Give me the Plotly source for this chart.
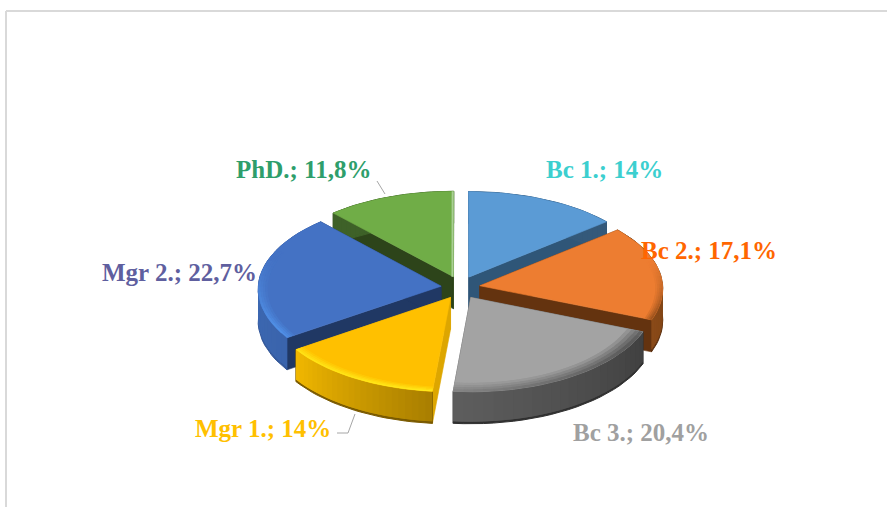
import math
import plotly.graph_objects as go

categories = ["Bc 1.", "Bc 2.", "Bc 3.", "Mgr 1.", "Mgr 2.", "PhD."]
shares = [14, 17.1, 20.4, 14, 22.7, 11.8]
value_labels = ["14%", "17,1%", "20,4%", "14%", "22,7%", "11,8%"]

top_colors = ["#5B9BD5", "#ED7D31", "#A3A3A3", "#FFC000", "#4472C4", "#70AD47"]
cut_colors = ["#2F5678", "#64330F", "#444444", "#DDA600", "#203864", "#2D441A"]
rim_colors = ["#5B9BD5", "#8A4A1A", "#555555", "#FFE81A", "#5090E6", "#70AD47"]
rim_width = [0, 0.04, 0.09, 0.05, 0.05, 0]
rim_fade = [0, 0, 0.6, 0.2, 0, 0]
wall_start = ["#34597A", "#6E3A12", "#404040", "#A87E00", "#3A64AC", "#3E6128"]
wall_end = ["#34597A", "#8A4A18", "#5E5E5E", "#F2B800", "#3F6CB8", "#3E6128"]
edge_colors = ["#34597A", "#5A2E0E", "#303030", "#7A5A00", "#34589A", "#3E6128"]
label_colors = ["#3CCFCF", "#FF6600", "#A0A0A0", "#FFC000", "#5F5F9F", "#2E9E6B"]
label_xy = [(604, 169), (709, 250), (641, 432), (263, 428), (179, 272), (303, 169)]
paint_order = [5, 0, 4, 1, 3, 2]

CX, CY, RX, RY, EX, EY, DEPTH = 460.5, 287.5, 183, 90, 19.5, 11.5, 32


def project(theta, r, mid):
    yf = -RY * r * math.cos(theta) - EY * math.cos(mid)
    xf = RX * r * math.sin(theta) + EX * math.sin(mid)
    return CX + xf * (1 + 0.03 * yf / RY), CY + yf * (1 + 0.04 * yf / RY)


def mix(a, b, t):
    pa = [int(a[i:i + 2], 16) for i in (1, 3, 5)]
    pb = [int(b[i:i + 2], 16) for i in (1, 3, 5)]
    return "#%02x%02x%02x" % tuple(round(p + (q - p) * t) for p, q in zip(pa, pb))


fig = go.Figure()


def poly(pts, color, width=0.6):
    xs = [p[0] for p in pts] + [pts[0][0]]
    ys = [p[1] for p in pts] + [pts[0][1]]
    fig.add_trace(go.Scatter(x=xs, y=ys, mode="lines", fill="toself", fillcolor=color,
                             line=dict(color=color, width=width), hoverinfo="skip", showlegend=False))


total = sum(shares)
starts = []
running = 0
for s in shares:
    starts.append(running)
    running += s

for i in paint_order:
    a0 = starts[i] / total * 2 * math.pi
    a1 = (starts[i] + shares[i]) / total * 2 * math.pi
    mid = (a0 + a1) / 2
    n = 24
    angles = [a0 + (a1 - a0) * k / n for k in range(n + 1)]
    apex = project(0, 0, mid)
    # radial cut faces
    for a in (a0, a1):
        e = project(a, 1, mid)
        poly([apex, e, (e[0], e[1] + DEPTH), (apex[0], apex[1] + DEPTH)], cut_colors[i])
    # thin dark foot of the wall, then the wall itself; each strip overlaps the next to hide seams
    poly([project(a, 1, mid) for a in angles] +
         [(p[0], p[1] + DEPTH) for p in (project(a, 1, mid) for a in reversed(angles))], edge_colors[i], 1)
    for k in range(n):
        p = project(angles[k], 1, mid)
        q = project(angles[min(k + 2, n)], 1, mid)
        poly([p, q, (q[0], q[1] + DEPTH - 2), (p[0], p[1] + DEPTH - 2)],
             mix(wall_start[i], wall_end[i], (k + 0.5) / n), 0)
    # top surface
    poly([apex] + [project(a, 1, mid) for a in angles], top_colors[i])
    # soft rim of the top surface, only towards the viewer
    if rim_width[i] > 0:
        steps = 4
        for k in range(n):
            th0, th1 = angles[k], angles[min(k + 2, n)]
            w = max(0.0, min(1.0, (0.3 - math.cos(th0)) / 0.8)) * (1 - rim_fade[i] * (k + 0.5) / n)
            if w <= 0:
                continue
            for s in range(steps):
                r0 = 1 - rim_width[i] * (1 - s / steps)
                r1 = 1 - rim_width[i] * (1 - (s + 1) / steps)
                band = [project(th0, r0, mid), project(th1, r0, mid),
                        project(th1, r1, mid), project(th0, r1, mid)]
                poly(band, mix(top_colors[i], rim_colors[i], w * (s + 1) / steps), 0)
    if categories[i] == "PhD.":
        e = project(a1, 1, mid)
        fig.add_trace(go.Scatter(x=[apex[0] - 1, e[0] - 1], y=[apex[1], e[1]], mode="lines",
                                 line=dict(color="#A9CF94", width=2), hoverinfo="skip", showlegend=False))

shapes = [
    dict(type="line", x0=6, x1=887, y0=11, y1=11, line=dict(color="#D9D9D9", width=2)),
    dict(type="line", x0=6, x1=6, y0=11, y1=507, line=dict(color="#D9D9D9", width=2)),
    dict(type="line", x0=377, x1=385, y0=181, y1=194, line=dict(color="#A6A6A6", width=1)),
    dict(type="path", path="M 355 414 L 348 433 L 337 433", line=dict(color="#A6A6A6", width=1)),
]

annotations = [
    dict(x=label_xy[i][0], y=label_xy[i][1], text=f"<b>{categories[i]}; {value_labels[i]}</b>",
         showarrow=False, xanchor="center", yanchor="middle",
         font=dict(family="Liberation Serif", size=25, color=label_colors[i]))
    for i in range(len(categories))
]

fig.update_layout(
    width=887, height=507, margin=dict(l=0, r=0, t=0, b=0),
    paper_bgcolor="white", plot_bgcolor="white", showlegend=False,
    xaxis=dict(range=[0, 887], visible=False, fixedrange=True),
    yaxis=dict(range=[507, 0], visible=False, fixedrange=True),
    shapes=shapes, annotations=annotations,
)
fig.write_html("out.html", config={"displayModeBar": False},
               post_script="document.body.style.margin='0';")
